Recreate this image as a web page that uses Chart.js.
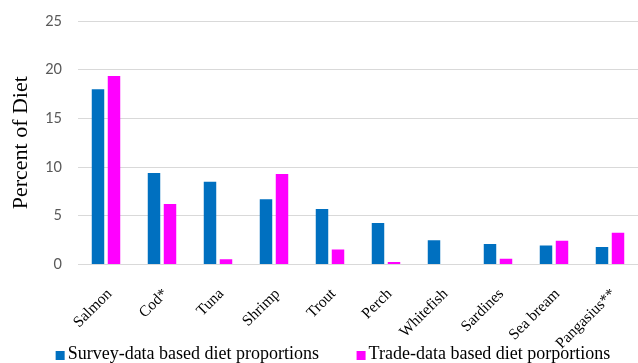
<!DOCTYPE html>
<html>
<head>
<meta charset="utf-8">
<script src="https://cdn.jsdelivr.net/npm/chart.js@4/dist/chart.umd.min.js"></script>
<style>
  html, body { margin: 0; padding: 0; background: #ffffff; }
  canvas { display: block; }
</style>
</head>
<body>
<canvas id="dietChart" width="638" height="363"></canvas>
<script>
// Seafood species and their share of the diet (%)
const categories = ['Salmon', 'Cod*', 'Tuna', 'Shrimp', 'Trout', 'Perch', 'Whitefish', 'Sardines', 'Sea bream', 'Pangasius**'];
const surveyShare = [18.0, 9.4, 8.5, 6.7, 5.7, 4.25, 2.5, 2.1, 1.95, 1.8];
const tradeShare = [19.35, 6.2, 0.55, 9.3, 1.55, 0.25, 0, 0.6, 2.45, 3.25];
const yTicks = [0, 5, 10, 15, 20, 25];
const seriesNames = ['Survey-data based diet proportions', 'Trade-data based diet porportions'];
const seriesColors = ['#0070C0', '#FF00FF'];

const serif = '"Liberation Serif", "Times New Roman", serif';

// One-row legend under the category labels: square swatch + series name
const bottomLegend = {
  id: 'bottomLegend',
  afterDraw(chart, args, opts) {
    const ctx = chart.ctx;
    ctx.save();
    ctx.font = opts.size + 'px ' + serif;
    ctx.textBaseline = 'alphabetic';
    ctx.textAlign = 'left';
    const items = chart.data.datasets.map(ds => ({
      text: ds.label,
      color: ds.backgroundColor,
      width: opts.box + opts.textGap + ctx.measureText(ds.label).width
    }));
    const total = items.reduce((s, it) => s + it.width, 0) + opts.itemGap * (items.length - 1);
    let x = opts.centerX - total / 2;
    items.forEach(it => {
      ctx.fillStyle = it.color;
      ctx.fillRect(x, opts.baseline - opts.boxDrop - opts.box, opts.box, opts.box);
      ctx.fillStyle = '#000000';
      ctx.fillText(it.text, x + opts.box + opts.textGap, opts.baseline);
      x += it.width + opts.itemGap;
    });
    ctx.restore();
  }
};

new Chart(document.getElementById('dietChart'), {
  type: 'bar',
  data: {
    labels: categories,
    datasets: [
      {
        label: seriesNames[0],
        data: surveyShare,
        backgroundColor: seriesColors[0],
        categoryPercentage: 0.5714,
        barPercentage: 0.78
      },
      {
        label: seriesNames[1],
        data: tradeShare,
        backgroundColor: seriesColors[1],
        categoryPercentage: 0.5714,
        barPercentage: 0.78
      }
    ]
  },
  options: {
    responsive: false,
    animation: false,
    layout: { padding: { top: 21, right: 0, bottom: 0, left: 0 } },
    plugins: {
      tooltip: { enabled: false },
      legend: { display: false },
      bottomLegend: { size: 18, box: 9, boxDrop: -1, textGap: 3, itemGap: 37.5, centerX: 333, baseline: 359 }
    },
    scales: {
      x: {
        grid: { display: false },
        border: { display: false },
        ticks: {
          autoSkip: false,
          minRotation: 45,
          maxRotation: 45,
          padding: 12.5,
          labelOffset: 3.5,
          color: '#000000',
          font: { family: serif, size: 15.5 }
        },
        afterFit(scale) {
          scale.height = 98.5;
          scale.paddingLeft = 0;
          scale.paddingRight = 0;
        }
      },
      y: {
        min: 0,
        max: 25,
        afterBuildTicks(scale) {
          scale.ticks = yTicks.map(v => ({ value: v }));
        },
        grid: { color: '#D9D9D9', lineWidth: 1, drawTicks: false },
        border: { display: false },
        ticks: {
          padding: 16,
          color: '#595959',
          font: { family: 'Lato, "Open Sans", sans-serif', size: 14.5 }
        },
        title: {
          display: true,
          text: 'Percent of Diet',
          color: '#000000',
          padding: { top: 8.5, bottom: 0 },
          font: { family: serif, size: 22 }
        },
        afterFit(scale) {
          scale.width = 78;
          scale.paddingTop = 0;
          scale.paddingBottom = 0;
        }
      }
    }
  },
  plugins: [bottomLegend]
});
</script>
</body>
</html>
